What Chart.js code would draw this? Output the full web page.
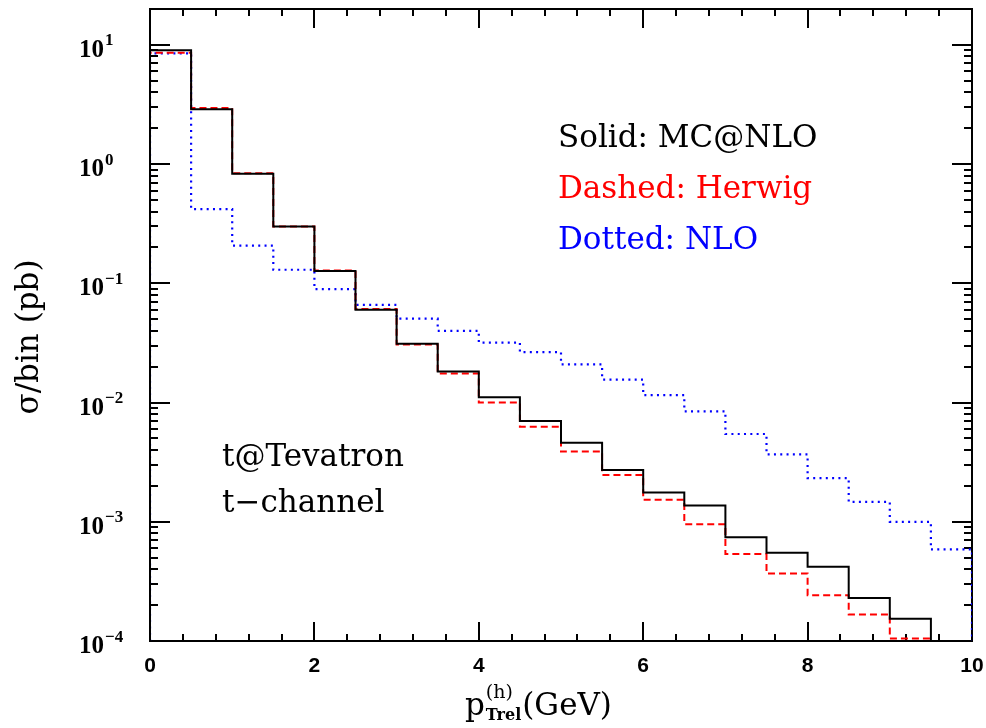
<!DOCTYPE html>
<html>
<head>
<meta charset="utf-8">
<script src="https://cdn.jsdelivr.net/npm/chart.js@4/dist/chart.umd.min.js"></script>
<style>
  html, body { margin: 0; padding: 0; background: #ffffff; }
  canvas { display: block; }
</style>
</head>
<body>
<canvas id="c" width="986" height="728"></canvas>
<script>
// ---- data ----
const binEdges = [0, 0.5, 1, 1.5, 2, 2.5, 3, 3.5, 4, 4.5, 5, 5.5, 6, 6.5, 7, 7.5, 8, 8.5, 9, 9.5, 10];
const mcnloValues  = [9.0, 2.89, 0.83, 0.299, 0.127, 0.060, 0.0312, 0.0182, 0.0111, 0.0070, 0.00461, 0.00272, 0.00176, 0.00137, 0.000743, 0.000549, 0.000419, 0.000229, 0.000154, 0.00007];
const herwigValues = [8.6, 2.96, 0.84, 0.300, 0.128, 0.061, 0.0307, 0.0175, 0.0100, 0.00628, 0.00388, 0.00247, 0.00153, 0.000955, 0.000536, 0.000369, 0.000242, 0.000167, 0.000105, 0.00005];
const nloValues    = [8.5, 0.42, 0.207, 0.130, 0.0893, 0.066, 0.0505, 0.040, 0.0318, 0.0265, 0.0209, 0.0156, 0.01156, 0.00843, 0.00545, 0.00367, 0.00232, 0.00147, 0.000998, 0.000586];
const xMajorTicks = [0, 2, 4, 6, 8, 10];
const xTickLabels = ['0', '2', '4', '6', '8', '10'];
const xMinorStep = 0.4;
const yTickExponents = [-4, -3, -2, -1, 0, 1];
const yTickLabels = ['10', '10', '10', '10', '10', '10'];
const yExponentLabels = ['\u22124', '\u22123', '\u22122', '\u22121', '0', '1'];
const xMin = 0, xMax = 10, yMin = 1e-4, yMax = 20;
const legendLines = ['Solid: MC@NLO', 'Dashed: Herwig', 'Dotted: NLO'];
const infoLines = ['t@Tevatron', 't\u2212channel'];

function stepPoints(values) {
  const pts = [{x: binEdges[0], y: yMin}];
  values.forEach((v, i) => pts.push({x: binEdges[i], y: v}));
  const last = values[values.length - 1];
  pts.push({x: binEdges[binEdges.length - 1], y: last});
  pts.push({x: binEdges[binEdges.length - 1], y: yMin});
  return pts;
}

const serif = '"DejaVu Serif", serif';

const framePlugin = {
  id: 'frame',
  beforeDatasetsDraw(chart) {
    const ctx = chart.ctx;
    const a = chart.chartArea;
    const xs = chart.scales.x, ys = chart.scales.y;
    ctx.save();
    ctx.strokeStyle = '#000';
    ctx.lineWidth = 2;
    ctx.setLineDash([]);
    ctx.strokeRect(a.left, a.top, a.right - a.left, a.bottom - a.top);
    ctx.beginPath();
    const nMinor = Math.round((xMax - xMin) / xMinorStep);
    for (let k = 0; k <= nMinor; k++) {
      const v = xMin + k * xMinorStep;
      const major = xMajorTicks.some(m => Math.abs(m - v) < 1e-6);
      const len = major ? 19 : 7;
      const px = Math.round(xs.getPixelForValue(v));
      ctx.moveTo(px, a.bottom); ctx.lineTo(px, a.bottom - len);
      ctx.moveTo(px, a.top); ctx.lineTo(px, a.top + len);
    }
    for (const e of yTickExponents) {
      for (let m = 1; m <= 9; m++) {
        const v = m * Math.pow(10, e);
        if (v < yMin * 0.999 || v > yMax * 1.001) continue;
        const len = m === 1 ? 20 : 8;
        const py = Math.round(ys.getPixelForValue(v));
        ctx.moveTo(a.left, py); ctx.lineTo(a.left + len, py);
        ctx.moveTo(a.right, py); ctx.lineTo(a.right - len, py);
      }
    }
    ctx.stroke();
    ctx.restore();
  },
  afterDraw(chart) {
    const ctx = chart.ctx;
    const a = chart.chartArea;
    const ys = chart.scales.y;
    ctx.save();
    ctx.fillStyle = '#000';
    ctx.textAlign = 'left';
    ctx.textBaseline = 'alphabetic';
    yTickExponents.forEach((e, i) => {
      const py = ys.getPixelForValue(Math.pow(10, e));
      ctx.font = 'bold 25px "Liberation Serif", serif';
      ctx.fillText(yTickLabels[i], a.left - 71, py + 12);
      const w = ctx.measureText(yTickLabels[i]).width;
      ctx.font = 'bold 17px "Liberation Serif", serif';
      ctx.fillText(yExponentLabels[i], a.left - 71 + w + 1, py + 0.5);
    });

    ctx.save();
    ctx.translate(38, 337);
    ctx.rotate(-Math.PI / 2);
    ctx.font = '31px ' + serif;
    ctx.textAlign = 'center';
    ctx.textBaseline = 'alphabetic';
    ctx.fillText('\u03C3/bin (pb)', 0, 0);
    ctx.restore();

    let x = 465;
    const base = 715;
    ctx.textAlign = 'left';
    ctx.font = '31px ' + serif;
    ctx.fillText('p', x, base);
    x += ctx.measureText('p').width + 1;
    ctx.font = '19px ' + serif;
    ctx.fillText('(h)', x, base - 17);
    const wSup = ctx.measureText('(h)').width;
    ctx.font = 'bold 16px ' + serif;
    ctx.fillText('Trel', x, base + 5);
    const wSub = ctx.measureText('Trel').width;
    x += Math.max(wSup, wSub) + 1;
    ctx.font = '31px ' + serif;
    ctx.fillText('(GeV)', x, base);

    ctx.font = '31px ' + serif;
    const colors = ['#000000', '#ff0000', '#0000ff'];
    legendLines.forEach((t, i) => {
      ctx.fillStyle = colors[i];
      ctx.fillText(t, a.left + 408, a.top + 138 + i * 51);
    });
    ctx.fillStyle = '#000';
    infoLines.forEach((t, i) => {
      ctx.fillText(t, a.left + 72, a.top + 457 + i * 46);
    });
    ctx.restore();
  }
};

new Chart(document.getElementById('c'), {
  type: 'line',
  data: {
    datasets: [
      { label: 'MC@NLO', data: stepPoints(mcnloValues), borderColor: '#000000', borderWidth: 2, stepped: 'before', pointRadius: 0, fill: false },
      { label: 'Herwig', data: stepPoints(herwigValues), borderColor: '#ff0000', borderWidth: 2, borderDash: [7, 4], stepped: 'before', pointRadius: 0, fill: false },
      { label: 'NLO', data: stepPoints(nloValues), borderColor: '#0000ff', borderWidth: 2.2, borderDash: [2, 4.3], stepped: 'before', pointRadius: 0, fill: false }
    ]
  },
  options: {
    responsive: false,
    devicePixelRatio: 1,
    animation: false,
    layout: { padding: { top: 9, right: 14, left: 0, bottom: 0 } },
    plugins: { legend: { display: false }, tooltip: { enabled: false } },
    scales: {
      x: {
        type: 'linear', min: xMin, max: xMax,
        grid: { display: false, drawTicks: false },
        border: { display: false },
        afterBuildTicks: s => { s.ticks = xMajorTicks.map(v => ({ value: v })); },
        ticks: {
          autoSkip: false, maxRotation: 0, padding: 13, color: '#000',
          font: { family: '"Liberation Sans", sans-serif', weight: 'bold', size: 21 },
          callback: (v) => { const i = xMajorTicks.indexOf(v); return i >= 0 ? xTickLabels[i] : ''; }
        },
        afterFit: s => { s.height = 87; s.paddingLeft = 0; s.paddingRight = 0; }
      },
      y: {
        type: 'logarithmic', min: yMin, max: yMax,
        grid: { display: false, drawTicks: false },
        border: { display: false },
        ticks: { display: false },
        afterFit: s => { s.width = 150; s.paddingTop = 0; s.paddingBottom = 0; }
      }
    }
  },
  plugins: [framePlugin]
});
</script>
</body>
</html>
